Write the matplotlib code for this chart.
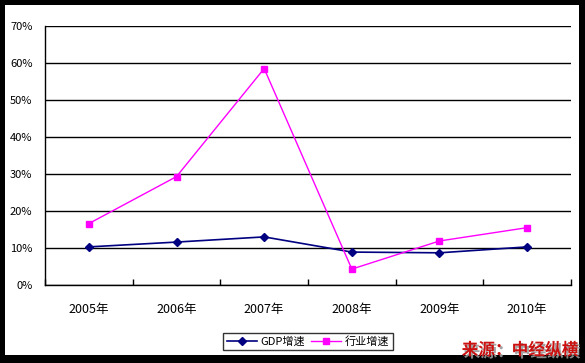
import matplotlib
matplotlib.use("Agg")
import matplotlib.pyplot as plt
import matplotlib.patheffects as pe
from matplotlib.patches import Rectangle
from matplotlib.ticker import FixedLocator, FuncFormatter

plt.rcParams['font.family'] = ['Noto Sans CJK SC', 'DejaVu Sans']

categories = ['2005年', '2006年', '2007年', '2008年', '2009年', '2010年']
gdp_growth = [10.3, 11.6, 13.0, 8.9, 8.7, 10.3]
industry_growth = [16.6, 29.3, 58.5, 4.3, 11.9, 15.5]
y_ticks = [0, 10, 20, 30, 40, 50, 60, 70]
series_names = ['GDP增速', '行业增速']
source_text = '来源：中经纵横'

W, H = 585, 363
fig = plt.figure(figsize=(W / 100, H / 100), dpi=100)
fig.patch.set_facecolor('black')
fig.patches.append(Rectangle((5 / W, (H - 355) / H), (579 - 5) / W, (355 - 5) / H,
                             transform=fig.transFigure, facecolor='white',
                             edgecolor='none', zorder=-5))

ax = fig.add_axes([45 / W, (H - 285) / H, (571 - 45) / W, (285 - 26) / H])
ax.set_zorder(1)
ax.set_facecolor('white')
x = list(range(len(categories)))

ax.plot(x, gdp_growth, color='#000080', lw=1.2, marker='D', ms=4.5,
        markerfacecolor='#000080', markeredgecolor='#000080', label=series_names[0], zorder=3)
ax.plot(x, industry_growth, color='#FF00FF', lw=1.0, marker='s', ms=5,
        markerfacecolor='#FF00FF', markeredgecolor='#FF00FF', label=series_names[1], zorder=3)

ax.set_xlim(-0.5, len(categories) - 0.5)
ax.set_ylim(0, 70)
ax.set_yticks(y_ticks)
ax.yaxis.set_major_formatter(FuncFormatter(lambda v, p: f'{int(v)}%'))
ax.tick_params(axis='y', length=0, pad=9, labelsize=8, colors='black')
ax.grid(axis='y', color='black', lw=1.0)
ax.set_axisbelow(True)

ax.set_xticks(x)
ax.set_xticklabels(categories)
ax.tick_params(axis='x', which='major', length=0, pad=13, labelsize=9)
ax.xaxis.set_minor_locator(FixedLocator([i - 0.5 for i in range(len(categories) + 1)]))
ax.tick_params(axis='x', which='minor', direction='in', length=4, width=1, color='black')

for s in ['top', 'right']:
    ax.spines[s].set_visible(False)
for s in ['left', 'bottom']:
    ax.spines[s].set_color('black')
    ax.spines[s].set_linewidth(1.0)

leg = fig.legend(loc='center', bbox_to_anchor=(308 / W, 1 - 341.5 / H), ncol=2,
                 fontsize=8, frameon=True, fancybox=False, edgecolor='black',
                 handlelength=2.7, handletextpad=0.3, columnspacing=0.6,
                 borderpad=0.3, borderaxespad=0)
leg.get_frame().set_linewidth(1.0)
leg.set_zorder(5)

t = fig.text(578 / W, 1 - 350 / H, source_text, ha='right', va='center',
             fontsize=12, fontweight='bold', style='italic', color='#CC1111',
             path_effects=[pe.withSimplePatchShadow(offset=(1.5, -1.5), shadow_rgbFace='#999999', alpha=0.9)])
t.set_zorder(5)

fig.savefig('out.png', dpi=100, facecolor=fig.get_facecolor())
